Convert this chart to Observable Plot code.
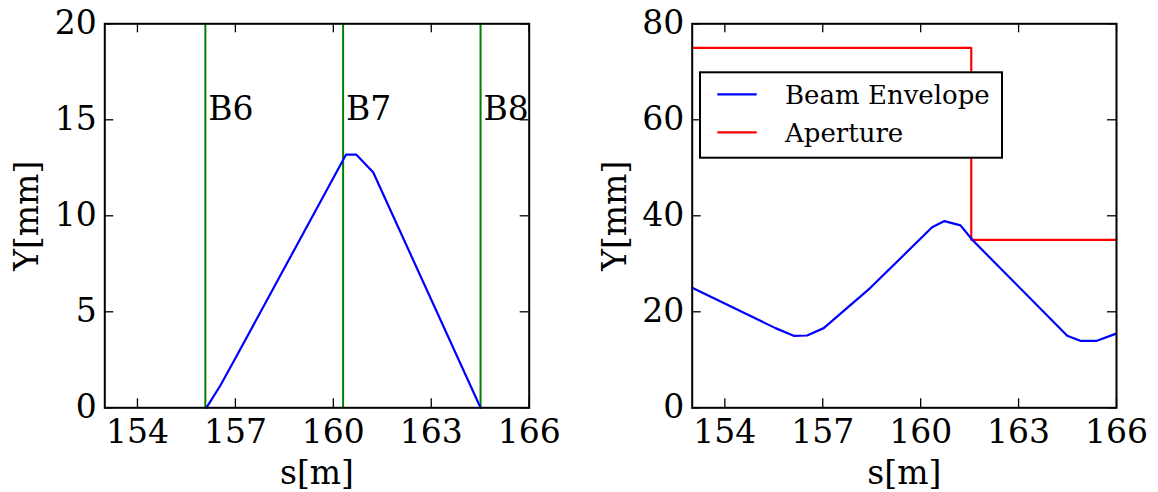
<!DOCTYPE html>
<html><head><meta charset="utf-8">
<script src="https://cdn.jsdelivr.net/npm/d3@7"></script>
<script src="https://cdn.jsdelivr.net/npm/@observablehq/plot@0.6"></script>
<style>
html,body{margin:0;padding:0;background:#fff;}
#chart{position:relative;width:1158px;height:492px;overflow:hidden;background:#fff;}
#chart > svg{position:absolute;top:0;}
</style></head><body><div id="chart"></div>
<script>
// ---- data ----
const xTicks = [154, 157, 160, 163, 166];
const leftYTicks = [0, 5, 10, 15, 20];
const rightYTicks = [0, 20, 40, 60, 80];
const bendNames = ["B6", "B7", "B8"];
const bendS = [156.08, 160.30, 164.51];
const bendLabelY = [15, 15, 15];
const leftS = [156.11, 156.54, 157.0, 160.32, 160.39, 160.70, 161.22, 164.51];
const leftY = [0, 1.16, 2.58, 12.97, 13.19, 13.19, 12.27, 0];
const rightS = [153.0, 155.55, 156.11, 156.52, 157.03, 158.46, 160.35, 160.73, 161.22, 161.58, 164.49, 164.89, 165.40, 165.97];
const rightY = [25.0, 16.6, 15.0, 15.06, 16.6, 25.0, 37.6, 38.9, 38.0, 35.0, 15.0, 13.95, 13.95, 15.4];
const apertureS = [153, 161.55, 161.55, 166];
const apertureY = [75, 75, 35, 35];
const legendLabels = ["Beam Envelope", "Aperture"];
const legendColors = ["#0000ff", "#ff0000"];
const xLabel = "s[m]";
const yLabel = "Y[mm]";

const FONT = "DejaVu Serif";
const FS = 33;
const H = 492, MT = 23.3, MB = 492 - 407.3;
const TICK = 9;

function panel({left, width, marginLeft, marginRight, yDomain, yTicks, marks}) {
  const innerW = width - marginLeft - marginRight;
  const innerH = H - MT - MB;
  const svg = Plot.plot({
    width, height: H, marginLeft, marginRight, marginTop: MT, marginBottom: MB,
    style: {fontFamily: FONT, fontSize: FS + "px", background: "white", color: "black", overflow: "visible"},
    x: {domain: [153, 166]},
    y: {domain: yDomain},
    marks: [
      ...marks,
      Plot.axisX({ticks: xTicks, tickSize: 0, tickPadding: 12, fontSize: FS, label: null, tickFormat: d => String(d)}),
      Plot.axisY({ticks: yTicks, tickSize: 0, tickPadding: 8, fontSize: FS, label: null, tickFormat: d => String(d)}),
      Plot.tickX(xTicks, {x: d => d, insetTop: innerH - TICK, stroke: "black", strokeWidth: 1.3}),
      Plot.tickX(xTicks, {x: d => d, insetBottom: innerH - TICK, stroke: "black", strokeWidth: 1.3}),
      Plot.tickY(yTicks, {y: d => d, insetRight: innerW - TICK, stroke: "black", strokeWidth: 1.3}),
      Plot.tickY(yTicks, {y: d => d, insetLeft: innerW - TICK, stroke: "black", strokeWidth: 1.3}),
      Plot.frame({stroke: "black", strokeWidth: 2}),
      Plot.text([xLabel], {text: d => d, frameAnchor: "bottom", textAnchor: "middle", lineAnchor: "bottom", dy: 76.3, fontSize: FS}),
      Plot.text([yLabel], {text: d => d, frameAnchor: "left", textAnchor: "middle", lineAnchor: "bottom", rotate: -90, dx: -66.7, fontSize: FS})
    ]
  });
  svg.style.left = left + "px";
  document.getElementById("chart").appendChild(svg);
  return svg;
}

// left panel
const leftData = leftS.map((s, i) => ({s, y: leftY[i]}));
const bends = bendNames.map((name, i) => ({name, s: bendS[i], y: bendLabelY[i]}));
panel({
  left: 0, width: 580, marginLeft: 104.3, marginRight: 580 - 528.7,
  yDomain: [0, 20], yTicks: leftYTicks,
  marks: [
    Plot.ruleX(bends, {x: "s", stroke: "#008000", strokeWidth: 2}),
    Plot.line(leftData, {x: "s", y: "y", stroke: "#0000ff", strokeWidth: 2.2}),
    Plot.text(bends, {x: "s", y: "y", text: "name", textAnchor: "start", lineAnchor: "bottom", dx: 3, fontSize: FS})
  ]
});

// right panel
const rightData = rightS.map((s, i) => ({s, y: rightY[i]}));
const apData = apertureS.map((s, i) => ({s, y: apertureY[i]}));
panel({
  left: 580, width: 578, marginLeft: 111.7, marginRight: 578 - 536,
  yDomain: [0, 80], yTicks: rightYTicks,
  marks: [
    Plot.line(apData, {x: "s", y: "y", stroke: "#ff0000", strokeWidth: 2.2}),
    Plot.line(rightData, {x: "s", y: "y", stroke: "#0000ff", strokeWidth: 2.2})
  ]
});

// legend overlay
const leg = d3.select("#chart").append("svg")
  .attr("width", 1158).attr("height", 492)
  .style("left", "0px").style("pointer-events", "none");
leg.append("rect").attr("x", 700).attr("y", 72.3).attr("width", 302).attr("height", 85.4)
  .attr("fill", "white").attr("stroke", "black").attr("stroke-width", 2);
const rowY = [94.3, 132.3];
legendLabels.forEach((lab, i) => {
  leg.append("line").attr("x1", 717.3).attr("x2", 756.7).attr("y1", rowY[i]).attr("y2", rowY[i])
    .attr("stroke", legendColors[i]).attr("stroke-width", 2.2);
  leg.append("text").attr("x", 785).attr("y", rowY[i] + 9.2)
    .attr("font-family", FONT).attr("font-size", 26).attr("fill", "black").text(lab);
});
</script>
</body></html>
